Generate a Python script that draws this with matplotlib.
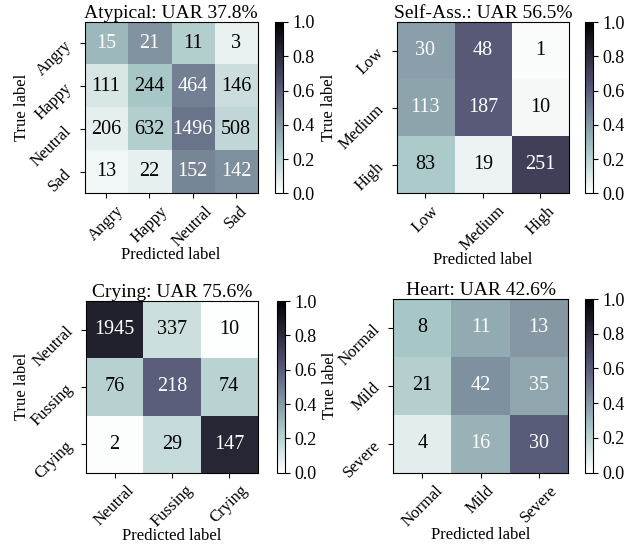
import matplotlib
matplotlib.use("Agg")
import matplotlib.pyplot as plt
import numpy as np

plt.rcParams['font.family'] = ['Liberation Serif', 'DejaVu Serif']
plt.rcParams['mathtext.fontset'] = 'stix'

# confusion matrices (counts), rows = true label, columns = predicted label
atyp_labels = ['Angry', 'Happy', 'Neutral', 'Sad']
atyp_cm = [[15, 21, 11, 3],
           [111, 244, 464, 146],
           [206, 632, 1496, 508],
           [13, 22, 152, 142]]

self_labels = ['Low', 'Medium', 'High']
self_cm = [[30, 48, 1],
           [113, 187, 10],
           [83, 19, 251]]

cry_labels = ['Neutral', 'Fussing', 'Crying']
cry_cm = [[1945, 337, 10],
          [76, 218, 74],
          [2, 29, 147]]

heart_labels = ['Normal', 'Mild', 'Severe']
heart_cm = [[8, 11, 13],
            [21, 42, 35],
            [4, 16, 30]]

titles = ['Atypical: UAR 37.8%', 'Self-Ass.: UAR 56.5%',
          'Crying: UAR 75.6%', 'Heart: UAR 42.6%']

W, H = 640, 550
# pixel boxes: (left, right, top, bottom, colorbar left)
boxes = [(84.5, 257.7, 22, 193.3, 275),
         (396.7, 569, 22.3, 193.3, 585),
         (86, 257.7, 301, 472.7, 277),
         (393.3, 567.7, 299, 472.7, 585)]


def plot_cm(fig, box, cm, labels, title):
    l, r, t, b, cl = box
    ax = fig.add_axes([l / W, 1 - b / H, (r - l) / W, (b - t) / H])
    cax = fig.add_axes([cl / W, 1 - b / H, 8 / W, (b - t) / H])
    cm = np.array(cm)
    norm = cm / cm.sum(axis=1, keepdims=True)
    im = ax.imshow(norm, cmap='bone_r', vmin=0, vmax=1, aspect='auto',
                   interpolation='nearest')
    cb = fig.colorbar(im, cax=cax)
    cb.set_ticks([0, 0.2, 0.4, 0.6, 0.8, 1.0])
    cb.ax.tick_params(labelsize=13)
    n = len(labels)
    ax.set_xticks(range(n))
    ax.set_yticks(range(n))
    ax.set_xticklabels(labels, rotation=45, fontsize=12)
    ax.set_yticklabels(labels, rotation=45, fontsize=12)
    ax.set_xlabel('Predicted label', fontsize=12, labelpad=-2)
    ax.set_ylabel('True label', fontsize=12, labelpad=-1)
    ax.set_title(title, fontsize=14, pad=2)
    thresh = norm.max() / 2
    for i in range(n):
        for j in range(n):
            ax.text(j, i, str(cm[i, j]), ha='center', va='center', fontsize=14.5,
                    color='white' if norm[i, j] > thresh else 'black')


fig = plt.figure(figsize=(6.4, 5.5), dpi=100)
plot_cm(fig, boxes[0], atyp_cm, atyp_labels, titles[0])
plot_cm(fig, boxes[1], self_cm, self_labels, titles[1])
plot_cm(fig, boxes[2], cry_cm, cry_labels, titles[2])
plot_cm(fig, boxes[3], heart_cm, heart_labels, titles[3])

fig.savefig('out.png', dpi=100)
